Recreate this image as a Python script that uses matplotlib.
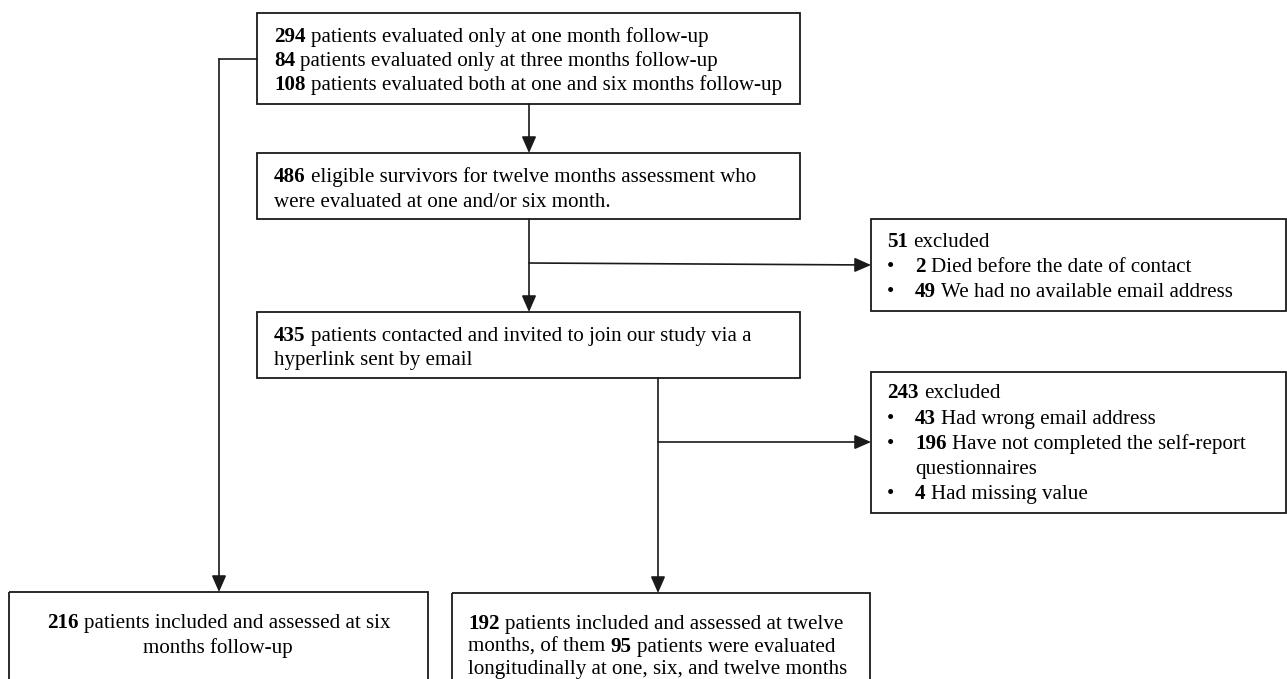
import matplotlib
matplotlib.use("Agg")
import matplotlib.pyplot as plt
from matplotlib.patches import Rectangle
from matplotlib.font_manager import FontProperties, findfont, get_font

W, H = 1287, 679
FONT = "Liberation Serif"
FS = 15.1
LC = "#1a1a1a"

# ---- content ----
box1_lines = [[("294", True), (" patients evaluated only at one month follow-up", False)],
              [("84", True), (" patients evaluated only at three months follow-up", False)],
              [("108", True), (" patients evaluated both at one and six months follow-up", False)]]
box2_lines = [[("486", True), (" eligible survivors for twelve months assessment who", False)],
              [("were evaluated at one and/or six month.", False)]]
box3_lines = [[("435", True), (" patients contacted and invited to join our study via a", False)],
              [("hyperlink sent by email", False)]]
box4_head = [("51", True), (" excluded", False)]
box4_bullets = [[[("2", True), (" Died before the date of contact", False)]],
                [[("49", True), (" We had no available email address", False)]]]
box5_head = [("243", True), (" excluded", False)]
box5_bullets = [[[("43", True), (" Had wrong email address", False)]],
                [[("196", True), (" Have not completed the self-report", False)], [("questionnaires", False)]],
                [[("4", True), (" Had missing value", False)]]]
box6_lines = [[("216", True), (" patients included and assessed at six", False)],
              [("months follow-up", False)]]
box7_lines = [[("192", True), (" patients included and assessed at twelve", False)],
              [("months, of them ", False), ("95", True), (" patients were evaluated", False)],
              [("longitudinally at one, six, and twelve months", False)]]

fig = plt.figure(figsize=(W / 100, H / 100), dpi=100)
ax = fig.add_axes([0, 0, 1, 1])
ax.set_xlim(0, W)
ax.set_ylim(H, 0)
ax.axis("off")

_fonts = {}


def advance(s, bold):
    if bold not in _fonts:
        fp = FontProperties(family=FONT, weight="bold" if bold else "normal")
        _fonts[bold] = get_font(findfont(fp))
    f = _fonts[bold]
    f.set_size(FS, 100)
    return sum(f.load_char(ord(c)).linearHoriAdvance / 65536.0 for c in s)


def box(x0, y0, x1, y1):
    ax.add_patch(Rectangle((x0, y0), x1 - x0, y1 - y0, fill=False, ec=LC, lw=1.3))


def rich(x, y, runs, ha="left"):
    total = sum(advance(s, b) for s, b in runs)
    cx = x - total / 2 if ha == "center" else x
    for s, b in runs:
        lead = len(s) - len(s.lstrip(" "))
        cx += advance(" " * lead, b)
        core = s.strip(" ")
        ax.text(cx, y, core, fontfamily=FONT, fontsize=FS,
                fontweight="bold" if b else "normal",
                va="baseline", ha="left", color="black")
        cx += advance(core, b)
        trail = len(s) - len(s.rstrip(" "))
        cx += advance(" " * trail, b)


def bullet(x, y):
    ax.text(x, y, "\u2022", fontfamily=FONT, fontsize=FS, va="baseline", ha="left")


def arrow(x0, y0, x1, y1):
    ax.annotate("", xy=(x1, y1), xytext=(x0, y0),
                arrowprops=dict(arrowstyle="-|>,head_length=0.5,head_width=0.22",
                                mutation_scale=20, lw=1.2,
                                color=LC, shrinkA=0, shrinkB=0))


# boxes
box(257, 13, 800, 104)
box(257, 153, 800, 219)
box(257, 312, 800, 378)
box(871, 219, 1286, 311)
box(871, 372, 1286, 513)
box(9, 592, 428, 700)
box(452, 593, 870, 700)

# text (baselines)
for ln, yy in zip(box1_lines, [42, 66, 90]):
    rich(274, yy, ln)
for ln, yy in zip(box2_lines, [182, 207]):
    rich(274, yy, ln)
for ln, yy in zip(box3_lines, [341, 365]):
    rich(274, yy, ln)

rich(887, 247, box4_head)
y = 272
for b in box4_bullets:
    bullet(887, y)
    for ln in b:
        rich(915, y, ln)
        y += 25

rich(887, 398, box5_head)
y = 424
for b in box5_bullets:
    bullet(887, y)
    for ln in b:
        rich(915, y, ln)
        y += 25

for ln, yy in zip(box6_lines, [628, 653]):
    rich(218, yy, ln, ha="center")
for ln, yy in zip(box7_lines, [629, 652, 674]):
    rich(468, yy, ln)

# connectors
arrow(529, 104, 529, 153)
arrow(529, 219, 529, 312)
arrow(529, 263, 871, 265)
arrow(658, 378, 658, 593)
arrow(658, 442, 871, 442)
ax.plot([257, 219], [59, 59], color=LC, lw=1.2)
arrow(219, 59, 219, 592)

fig.savefig("out.png", dpi=100)
